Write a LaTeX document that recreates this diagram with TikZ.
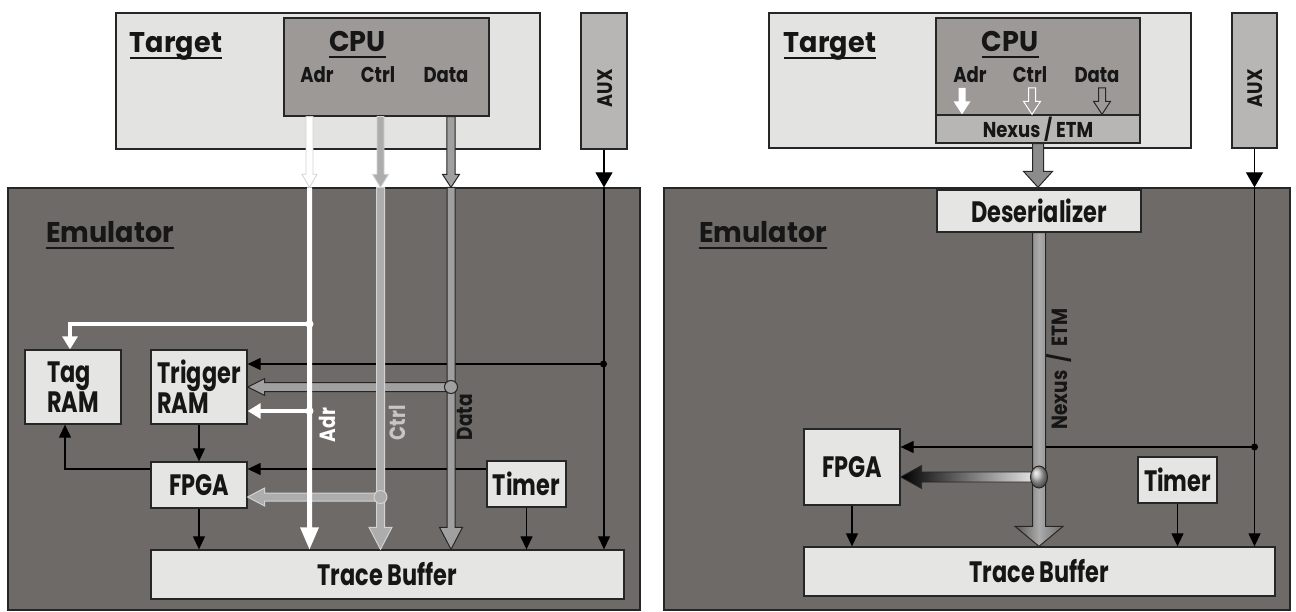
\documentclass[tikz,border=0pt]{standalone}
\usepackage{fontspec}
\setmainfont{Poppins}[FakeStretch=0.76]
\newfontfamily\titlefont{Poppins}[FakeStretch=0.95]
\newfontfamily\midfont{Poppins}[FakeStretch=0.84]
\usetikzlibrary{arrows.meta,calc,shapes.geometric}
\definecolor{tgtfill}{HTML}{E3E3E1}
\definecolor{cpufill}{HTML}{9C9997}
\definecolor{auxfill}{HTML}{B7B6B4}
\definecolor{emufill}{HTML}{6E6A67}
\definecolor{boxfill}{HTML}{E5E5E3}
\definecolor{edge}{HTML}{262626}
\definecolor{txt}{HTML}{161616}
\definecolor{ctrlfill}{HTML}{ADADAD}
\definecolor{ctrledge}{HTML}{D2D2D2}
\definecolor{datafill}{HTML}{A0A0A0}
\definecolor{nexgray}{HTML}{8C8C8C}
\definecolor{ctrltext}{HTML}{C6C6C6}
\definecolor{shdark}{HTML}{555555}
\definecolor{shmid}{HTML}{ABABAB}
\definecolor{shright}{HTML}{6A6A6A}
\begin{document}
\begin{tikzpicture}[x=1pt,y=-1pt,
 box/.style={draw=edge,line width=1.3pt,inner sep=0pt},
 lbl/.style={font=\fontsize{29.5}{30}\selectfont\bfseries,text=txt,align=center},
 title/.style={font=\titlefont\fontsize{28.5}{30}\selectfont\bfseries,text=txt,inner sep=0pt,anchor=base},
 sig/.style={font=\midfont\fontsize{21.5}{23}\selectfont\bfseries,text=txt,inner sep=0pt,anchor=base},
 uline/.style={draw=txt,line width=1.6pt},
 conn/.style={draw=black,line width=1.2pt,-{Triangle[width=12pt,length=13pt]}},
 auxin/.style={draw=black,line width=1.2pt,-{Triangle[width=17pt,length=15pt]}},
 wconn/.style={draw=white,line width=4pt,-{Triangle[width=15pt,length=13pt]}},
 vlbl/.style={rotate=90,font=\midfont\fontsize{22}{24}\selectfont\bfseries,inner sep=0pt},
 fatdown/.style n args={3}{to path={let \p1=(\tikztostart),\p2=(\tikztotarget) in
   (\x1-#1,\y1) -- (\x1-#1,\y2+#3) -- (\x1-#2,\y2+#3) -- (\x1,\y2) -- (\x1+#2,\y2+#3) -- (\x1+#1,\y2+#3) -- (\x1+#1,\y1) -- cycle}},
 fatleft/.style n args={3}{to path={let \p1=(\tikztostart),\p2=(\tikztotarget) in
   (\x1,\y1+#1) -- (\x2+#3,\y1+#1) -- (\x2+#3,\y1+#2) -- (\x2,\y1) -- (\x2+#3,\y1-#2) -- (\x2+#3,\y1-#1) -- (\x1,\y1-#1) -- cycle}},
]
\useasboundingbox[fill=white] (0,0) rectangle (1296,612);

% ================= LEFT PANEL =================
\node[box,fill=tgtfill,minimum width=424pt,minimum height=136pt] (tgtL) at (328,81) {};
\node[box,fill=cpufill,minimum width=205pt,minimum height=98pt] (cpuL) at (386.5,67) {};
\node[box,fill=auxfill,minimum width=46pt,minimum height=136pt] (auxL) at (604,81) {};
\node[box,fill=emufill,minimum width=632pt,minimum height=422pt] (emuL) at (324,399) {};
\node[box,fill=boxfill,minimum width=96pt,minimum height=74pt,lbl,align=left] (tagL) at (73,387) {Tag\\RAM};
\node[box,fill=boxfill,minimum width=96pt,minimum height=74pt,lbl,align=left] (trigL) at (199,387) {Trigger\\RAM};
\node[box,fill=boxfill,minimum width=96pt,minimum height=46pt,lbl] (fpgaL) at (199,485) {FPGA};
\node[box,fill=boxfill,minimum width=79pt,minimum height=46pt,lbl] (timerL) at (526.5,484) {Timer};
\node[box,fill=boxfill,minimum width=473pt,minimum height=49pt,lbl] (tbL) at (387.5,574.5) {Trace Buffer};

\node[title] (tgtLt) at (176,53) {Target};
\draw[uline] ([yshift=-5pt]tgtLt.base west) -- ([yshift=-5pt]tgtLt.base east);
\node[title] (cpuLt) at (357.5,52) {CPU};
\draw[uline] ([yshift=-5pt]cpuLt.base west) -- ([yshift=-5pt]cpuLt.base east);
\node[title] (emuLt) at (110,243) {Emulator};
\draw[uline] ([yshift=-5pt]emuLt.base west) -- ([yshift=-5pt]emuLt.base east);
\node[sig] (adrL) at (317,83) {Adr};
\node[sig] (ctlL) at (378,83) {Ctrl};
\node[sig] (datL) at (446,83) {Data};
\node[vlbl,text=txt,font=\midfont\fontsize{21}{23}\selectfont\bfseries] (auxLt) at (605,88) {AUX};

\coordinate (xA) at (309.5,0);
\coordinate (xC) at (380.5,0);
\coordinate (xD) at (451,0);
\coordinate (jXL) at (603.5,364);
\coordinate (jDL) at (451,387);
\coordinate (jCL) at (380.5,497);
\coordinate (jA1) at (309.5,324);
\coordinate (jA2) at (309.5,411);

% black connectors
\draw[conn] (jXL) -- (jXL -| trigL.east);
\draw[conn] (trigL.south) -- (fpgaL.north);
\draw[conn] ([yshift=16pt]fpgaL.west) -| ([xshift=-8pt]tagL.south);
\draw[conn] ([yshift=15pt]timerL.west) -- ([yshift=16pt]fpgaL.east);
\draw[conn] (fpgaL.south) -- (fpgaL.south |- tbL.north);
\draw[conn] (timerL.south) -- (timerL.south |- tbL.north);
\draw[auxin] (auxL.south) -- (auxL.south |- emuL.north);
\draw[conn] (auxL.south |- emuL.north) -- (auxL.south |- tbL.north);

% horizontal buses
\path[fill=datafill,draw=edge,line width=1pt] (jDL) to[fatleft={4.5pt}{8.5pt}{17pt}] (jDL -| trigL.east);
\path[fill=ctrlfill,draw=ctrledge,line width=1pt] (jCL) to[fatleft={4pt}{9pt}{17pt}] (jCL -| fpgaL.east);
\draw[wconn] (jA1) -| ([xshift=-3pt]tagL.north);
\draw[wconn] (jA2) -- (jA2 -| trigL.east);

% CPU to emulator
\path[fill=white,draw=ctrledge,line width=0.8pt] (xA |- cpuL.south) to[fatdown={3.5pt}{7.5pt}{13pt}] (xA |- emuL.north);
\path[fill=ctrlfill,draw=ctrledge,line width=0.8pt] (xC |- cpuL.south) to[fatdown={3.5pt}{8pt}{13pt}] (xC |- emuL.north);
\path[fill=datafill,draw=edge,line width=1pt] (xD |- cpuL.south) to[fatdown={4.2pt}{8.5pt}{13pt}] (xD |- emuL.north);

% vertical buses
\path[fill=white] (xA |- emuL.north) to[fatdown={2.5pt}{9.5pt}{22pt}] (xA |- tbL.north);
\path[fill=ctrlfill,draw=ctrledge,line width=1pt] (xC |- emuL.north) to[fatdown={4pt}{11.5pt}{22pt}] (xC |- tbL.north);
\path[fill=datafill,draw=edge,line width=1pt] (xD |- emuL.north) to[fatdown={4pt}{11.5pt}{22pt}] (xD |- tbL.north);

% junctions
\fill (jXL) circle[radius=3.5pt];
\fill[white] (jA1) circle[radius=4pt];
\fill[white] (jA2) circle[radius=4pt];
\filldraw[fill=datafill,draw=edge,line width=1pt] (jDL) circle[radius=6.5pt];
\filldraw[fill=ctrlfill,draw=ctrledge,line width=1pt] (jCL) circle[radius=6.5pt];

\node[vlbl,text=white] (adrV) at (327,425) {Adr};
\node[vlbl,text=ctrltext] (ctlV) at (397,423) {Ctrl};
\node[vlbl,text=txt] (datV) at (465,417) {Data};

% ================= RIGHT PANEL =================
\node[box,fill=tgtfill,minimum width=422pt,minimum height=135pt] (tgtR) at (980,80.5) {};
\node[box,fill=cpufill,minimum width=204pt,minimum height=97pt] (cpuR) at (1038,66.5) {};
\node[box,fill=auxfill,minimum width=204pt,minimum height=28pt,font=\midfont\fontsize{21.5}{23}\selectfont\bfseries,text=txt] (nexR) at (1038,129) {Nexus / ETM};
\node[box,fill=auxfill,minimum width=45pt,minimum height=135pt] (auxR) at (1254.5,80.5) {};
\node[box,fill=emufill,minimum width=626pt,minimum height=422pt] (emuR) at (977,399) {};
\node[box,fill=boxfill,minimum width=204pt,minimum height=42pt,lbl] (desR) at (1039,211) {Deserializer};
\node[box,fill=boxfill,minimum width=96pt,minimum height=76pt,lbl] (fpgaR) at (852,467) {FPGA};
\node[box,fill=boxfill,minimum width=79pt,minimum height=46pt,lbl] (timerR) at (1177.5,480) {Timer};
\node[box,fill=boxfill,minimum width=471pt,minimum height=49pt,lbl] (tbR) at (1039.5,571.5) {Trace Buffer};

\node[title] (tgtRt) at (830,53) {Target};
\draw[uline] ([yshift=-5pt]tgtRt.base west) -- ([yshift=-5pt]tgtRt.base east);
\node[title] (cpuRt) at (1010,52) {CPU};
\draw[uline] ([yshift=-5pt]cpuRt.base west) -- ([yshift=-5pt]cpuRt.base east);
\node[title] (emuRt) at (763,243) {Emulator};
\draw[uline] ([yshift=-5pt]emuRt.base west) -- ([yshift=-5pt]emuRt.base east);
\node[sig] (adrR) at (970,83) {Adr};
\node[sig] (ctlR) at (1030,83) {Ctrl};
\node[sig] (datR) at (1097,83) {Data};
\node[vlbl,text=txt,font=\midfont\fontsize{21}{23}\selectfont\bfseries] (auxRt) at (1255,88) {AUX};

\coordinate (aR) at (962,88);
\coordinate (cR) at (1032,88);
\coordinate (dR) at (1102,88);
\coordinate (jXR) at (1254.5,447);
\coordinate (jNR) at (1039,477);

\path[fill=white] (aR) to[fatdown={3.5pt}{8.5pt}{13pt}] (aR |- nexR.north);
\path[fill=cpufill,draw=white,line width=1pt] (cR) to[fatdown={3.5pt}{8.5pt}{13pt}] (cR |- nexR.north);
\path[fill=cpufill,draw=edge,line width=1pt] (dR) to[fatdown={3.5pt}{8.5pt}{13pt}] (dR |- nexR.north);
\path[fill=nexgray,draw=edge,line width=1pt] (nexR.south) to[fatdown={5.5pt}{14.5pt}{16pt}] (nexR.south |- emuR.north);

\draw[conn] (jXR) -- (jXR -| fpgaR.east);
\draw[auxin] (auxR.south) -- (auxR.south |- emuR.north);
\draw[conn] (auxR.south |- emuR.north) -- (auxR.south |- tbR.north);
\draw[conn] (fpgaR.south) -- (fpgaR.south |- tbR.north);
\draw[conn] (timerR.south) -- (timerR.south |- tbR.north);

\path[draw=edge,line width=0.8pt,left color=black,right color=white!85!gray] (jNR) to[fatleft={5pt}{11.5pt}{21pt}] (jNR -| fpgaR.east);
\path[draw=edge,line width=1pt,left color=shdark,right color=shright,middle color=shmid] (desR.south) to[fatdown={6.5pt}{24pt}{20pt}] (desR.south |- tbR.north);
\path[draw=edge,line width=1pt,ball color=gray!60] (jNR) ellipse[x radius=8.5pt,y radius=11pt];
\fill (jXR) circle[radius=3.5pt];

\node[vlbl,text=txt] (nexV) at (1059,369) {Nexus\ \ /\ \ ETM};
\end{tikzpicture}
\end{document}
